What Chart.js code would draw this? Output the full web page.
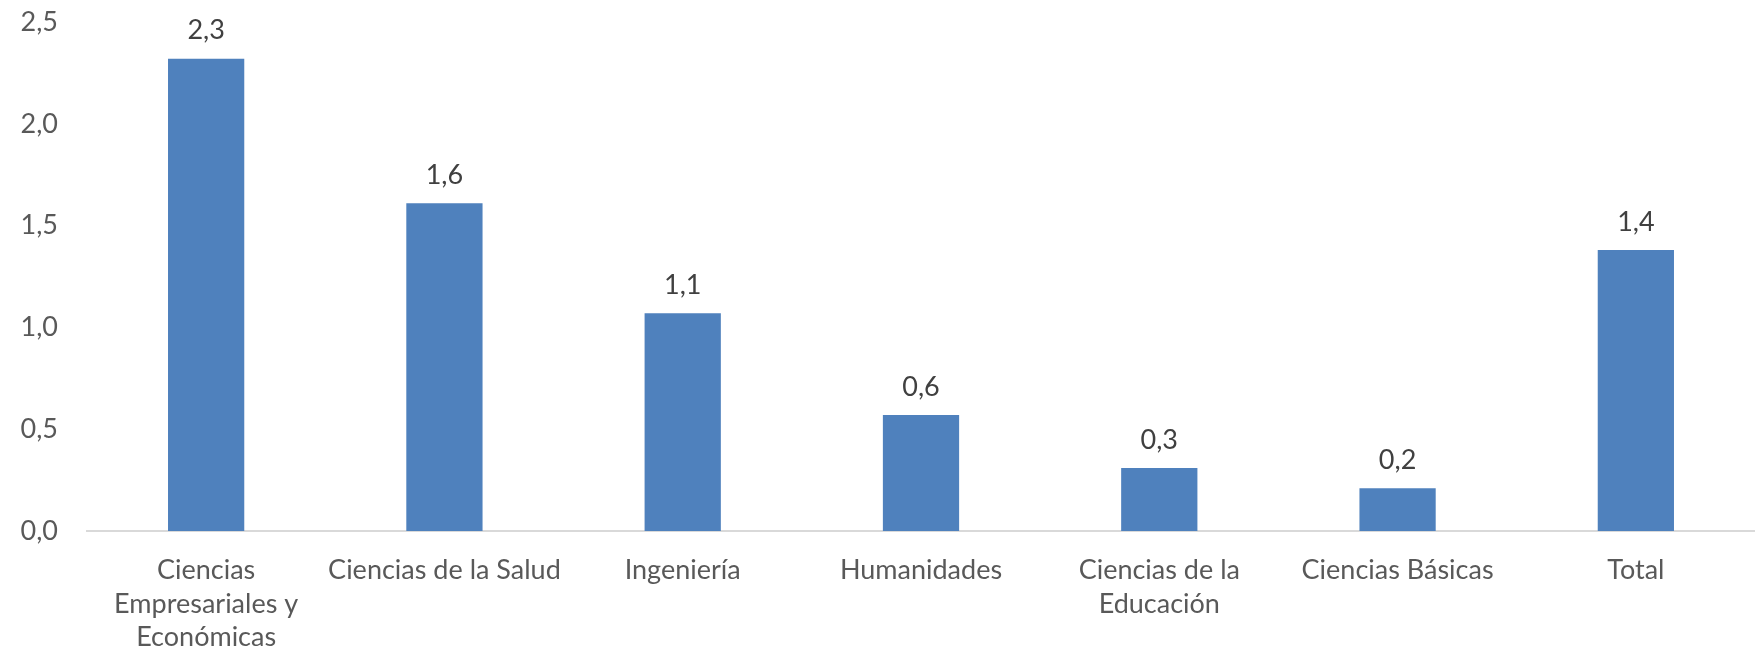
<!DOCTYPE html>
<html>
<head>
<meta charset="utf-8">
<script src="https://cdn.jsdelivr.net/npm/chart.js@4.4.1/dist/chart.umd.min.js"></script>
<style>
  html, body { margin: 0; padding: 0; background: #fff; }
  #wrap { width: 1755px; height: 652px; }
</style>
</head>
<body>
<div id="wrap"><canvas id="chart" width="1755" height="652"></canvas></div>
<script>
// categories (multi-line where the original wraps)
const categories = [
    ['Ciencias', 'Empresariales y', 'Económicas'],
    'Ciencias de la Salud',
    'Ingeniería',
    'Humanidades',
    ['Ciencias de la', 'Educación'],
    'Ciencias Básicas',
    'Total',
];
const values = [2.32, 1.61, 1.07, 0.57, 0.31, 0.21, 1.38];
const yTicks = [0, 0.5, 1.0, 1.5, 2.0, 2.5];

const FONT = 'Lato, "Open Sans", sans-serif';
const fmt = (v) => v.toFixed(1).replace('.', ',');

// draws the value above each bar, like Excel's data labels
const valueLabels = {
    id: 'valueLabels',
    afterDatasetsDraw(chart) {
        const ctx = chart.ctx;
        const meta = chart.getDatasetMeta(0);
        ctx.save();
        ctx.font = '27px ' + FONT;
        ctx.fillStyle = '#404040';
        ctx.textAlign = 'center';
        ctx.textBaseline = 'middle';
        meta.data.forEach((bar, i) => {
            ctx.fillText(fmt(values[i]), bar.x, bar.y - 28);
        });
        ctx.restore();
    },
};

new Chart(document.getElementById('chart').getContext('2d'), {
    type: 'bar',
    data: {
        labels: categories,
        datasets: [
            {
                data: values,
                backgroundColor: '#4F81BD',
                borderWidth: 0,
                barPercentage: 0.32,
                categoryPercentage: 1.0,
            },
        ],
    },
    options: {
        responsive: false,
        animation: false,
        devicePixelRatio: 1,
        layout: { padding: { top: 22, right: 0, left: 0, bottom: 0 } },
        plugins: {
            legend: { display: false },
            tooltip: { enabled: false },
        },
        scales: {
            x: {
                grid: { display: false, drawTicks: false },
                border: { display: true, color: '#D9D9D9', width: 2 },
                ticks: {
                    color: '#595959',
                    font: { family: FONT, size: 27, lineHeight: 1.24 },
                    padding: 23,
                    maxRotation: 0,
                    autoSkip: false,
                },
                afterFit: (scale) => { scale.height = 121; },
            },
            y: {
                min: 0,
                max: 2.5,
                afterBuildTicks: (scale) => { scale.ticks = yTicks.map((v) => ({ value: v })); },
                grid: { display: false, drawTicks: false },
                border: { display: false },
                ticks: {
                    color: '#595959',
                    font: { family: FONT, size: 27 },
                    padding: 29,
                    callback: (v) => fmt(v),
                },
                afterFit: (scale) => {
                    scale.width = 87;
                    scale.paddingTop = 0;
                    scale.paddingBottom = 0;
                },
            },
        },
    },
    plugins: [valueLabels],
});
</script>
</body>
</html>
